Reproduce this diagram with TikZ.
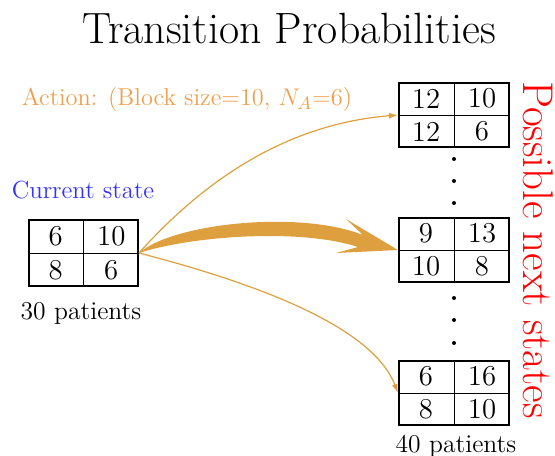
\documentclass[tikz,border=0pt]{standalone}
\usetikzlibrary{calc,arrows.meta}
\definecolor{arrowor}{RGB}{222,160,62}
\definecolor{textor}{RGB}{240,158,75}
\definecolor{curblue}{RGB}{50,50,255}
\newcommand\statetab[9]{%
  \node[frame, minimum width=#8, minimum height=#9] (#1) at (#2,#3) {};
  \draw[line width=0.5pt] (#1.north) -- (#1.south) (#1.west) -- (#1.east);
  \node[cell] (#1a) at ($(#1.center)!0.5!(#1.north west)$) {#4};
  \node[cell] (#1b) at ($(#1.center)!0.5!(#1.north east)$) {#5};
  \node[cell] (#1c) at ($(#1.center)!0.5!(#1.south west)$) {#6};
  \node[cell] (#1d) at ($(#1.center)!0.5!(#1.south east)$) {#7};
}
\begin{document}
\begin{tikzpicture}[x=0.5pt,y=-0.5pt,
  frame/.style={draw, line width=1pt, inner sep=0pt},
  cell/.style={font=\fontsize{14.4}{16}\selectfont, inner sep=0pt},
  thinarrow/.style={draw=arrowor, line width=0.6pt, -{Latex[length=4.5pt,width=3pt]}},
  lbl/.style={font=\fontsize{12.8}{15}\selectfont, inner sep=0pt, anchor=base}]
\useasboundingbox (0,0) rectangle (555,455);
% title
\node[font=\fontsize{21.9}{26}\selectfont, inner sep=0pt, anchor=base] (title) at (289,43) {Transition Probabilities};
\node[lbl, font=\fontsize{12.2}{15}\selectfont, text=textor] (action) at (187,105) {Action: (Block size=10, $N_A$=6)};
\node[lbl, font=\fontsize{12.4}{15}\selectfont, text=curblue] (cur) at (83,198) {Current state};
% tables
\statetab{L}{83.5}{253}{6}{10}{8}{6}{54.5pt}{33pt}
\statetab{T}{454}{115}{12}{10}{12}{6}{55pt}{32pt}
\statetab{M}{454}{250}{9}{13}{10}{8}{55pt}{32pt}
\statetab{B}{454}{393}{6}{16}{8}{10}{55pt}{32pt}
\node[lbl] (p30) at (81,319) {30 patients};
\node[lbl] (p40) at (456,452) {40 patients};
\node[font=\fontsize{21.5}{26}\selectfont, text=red, inner sep=0pt, anchor=base, rotate=-90] (poss) at (523,250) {Possible next states};
% dots
\foreach \yy in {159,181,203,298,320,343} \fill (454,\yy) circle [radius=1pt];
% thin arrows
\draw[thinarrow] (L.east) .. controls ($(L.east)+(77,-86)$) and ($(T.west)+(-98,8)$) .. (T.west);
\draw[thinarrow] (L.east) .. controls ($(L.east)+(92,24)$) and ($(B.west)+(-28,-73)$) .. (B.west);
% thick arrow
\fill[arrowor] (L.east) .. controls ($(L.east)+(34,-30)$) and ($(M.west)+(-98,-40)$) .. ($(M.west)+(-35,-15)$)
  -- ($(M.west)+(-52,-31)$) -- (M.west) -- ($(M.west)+(-62,3)$) -- ($(M.west)+(-40,-3)$)
  .. controls ($(M.west)+(-98,-22)$) and ($(L.east)+(52,-17)$) .. (L.east) -- cycle;
\end{tikzpicture}
\end{document}
